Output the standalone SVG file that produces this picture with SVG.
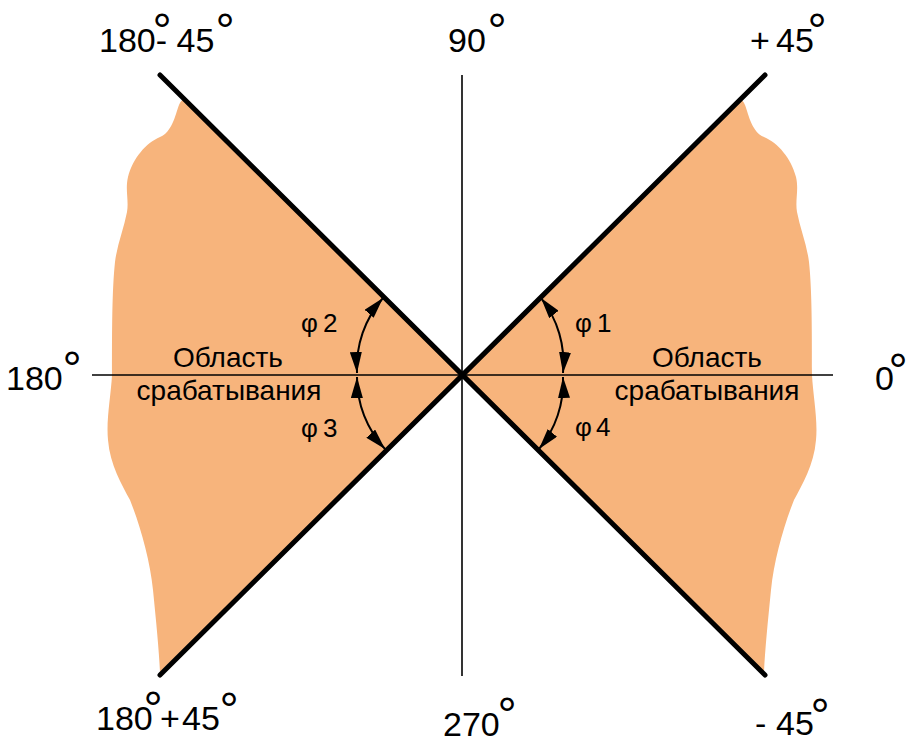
<svg xmlns="http://www.w3.org/2000/svg" width="907" height="742" viewBox="0 0 907 742">
<style>
.region{fill:#F7B47C;stroke:none}
.axis{stroke:#000;stroke-width:1.6;fill:none}
.bound{stroke:#000;stroke-width:5;stroke-linecap:round;fill:none}
.arc{stroke:#000;stroke-width:2;fill:none;marker-start:url(#ah);marker-end:url(#ah)}
.lbl{font-family:"Liberation Sans",Arial,sans-serif;font-size:34px;fill:#000}
.deg{font-family:"Liberation Sans",Arial,sans-serif;font-size:48px;fill:#000;text-anchor:middle}
.zone{font-family:"Liberation Sans",Arial,sans-serif;font-size:28px;fill:#000;text-anchor:middle}
.phi{font-family:"Liberation Sans",Arial,sans-serif;font-size:26px;fill:#000}
</style>
<defs>
<marker id="ah" viewBox="0 0 21 12" refX="21" refY="6" markerWidth="21" markerHeight="12" markerUnits="userSpaceOnUse" orient="auto-start-reverse">
<path d="M0,0 L21,6 L0,12 Z" fill="#000"/>
</marker>
</defs>
<rect width="907" height="742" fill="#fff"/>
<g id="region-left">
<path class="region" d="M462,375 L187,100 C184,98 181,100 179,105 C175,116 172,132 160,137 C146,143 133,158 128,177 C125,190 129,200 127,212 C124,228 117,245 115,262 C112,290 112,330 112,375 C111,395 106,420 108,440 C110,465 122,485 130,500 C140,525 150,560 153,590 C156,620 159,650 160,672 Z"/>
</g>
<g id="region-right">
<path class="region" d="M462,375 L737,100 C740,98 743,100 745,105 C749,116 752,132 764,137 C778,143 791,158 796,177 C799,190 795,200 797,212 C800,228 807,245 809,262 C812,290 812,330 812,375 C813,395 818,420 816,440 C814,465 802,485 794,500 C784,525 774,560 771,590 C768,620 765,650 764,672 Z"/>
</g>
<g id="connectors">
<line class="axis" x1="92" y1="375" x2="833" y2="375"/>
<line class="axis" x1="462" y1="75" x2="462" y2="676"/>
<line class="bound" x1="160" y1="75" x2="765" y2="675"/>
<line class="bound" x1="765" y1="75" x2="160" y2="675"/>
<path class="arc" d="M541,298 A105,105 0 0 1 563,373"/>
<path class="arc" d="M563,377 A105,105 0 0 1 539,449"/>
<path class="arc" d="M383,298 A105,105 0 0 0 357,373"/>
<path class="arc" d="M357,377 A105,105 0 0 0 385,449"/>
</g>
<g id="label-top-left">
<text class="lbl" x="99" y="52">180- 45</text>
<text class="deg" x="162" y="47">°</text>
<text class="deg" x="225" y="47">°</text>
</g>
<g id="label-top">
<text class="lbl" x="448" y="52">90</text>
<text class="deg" x="497" y="47">°</text>
</g>
<g id="label-top-right">
<text class="lbl" x="750" y="52">+</text>
<text class="lbl" x="776" y="52">45</text>
<text class="deg" x="817" y="47">°</text>
</g>
<g id="label-left">
<text class="lbl" x="6" y="390">180</text>
<text class="deg" x="72" y="385">°</text>
</g>
<g id="label-right">
<text class="lbl" x="875" y="390">0</text>
<text class="deg" x="898" y="387">°</text>
</g>
<g id="label-bottom-left">
<text class="lbl" x="96" y="730">180</text>
<text class="deg" x="153" y="725">°</text>
<text class="lbl" x="160" y="730">+</text>
<text class="lbl" x="182" y="730">45</text>
<text class="deg" x="229" y="726">°</text>
</g>
<g id="label-bottom">
<text class="lbl" x="443" y="736">270</text>
<text class="deg" x="507" y="731">°</text>
</g>
<g id="label-bottom-right">
<text class="lbl" x="755" y="735">-</text>
<text class="lbl" x="776" y="735">45</text>
<text class="deg" x="820" y="732">°</text>
</g>
<g id="zone-left">
<text class="zone" x="228" y="367">Область</text>
<text class="zone" x="229" y="400">срабатывания</text>
</g>
<g id="zone-right">
<text class="zone" x="707" y="367">Область</text>
<text class="zone" x="707" y="400">срабатывания</text>
</g>
<g id="phi-labels">
<text class="phi" x="301" y="332">φ</text><text class="phi" x="323" y="332">2</text>
<text class="phi" x="301" y="437">φ</text><text class="phi" x="323" y="437">3</text>
<text class="phi" x="575" y="332">φ</text><text class="phi" x="597" y="332">1</text>
<text class="phi" x="575" y="436">φ</text><text class="phi" x="596" y="436">4</text>
</g>
</svg>
